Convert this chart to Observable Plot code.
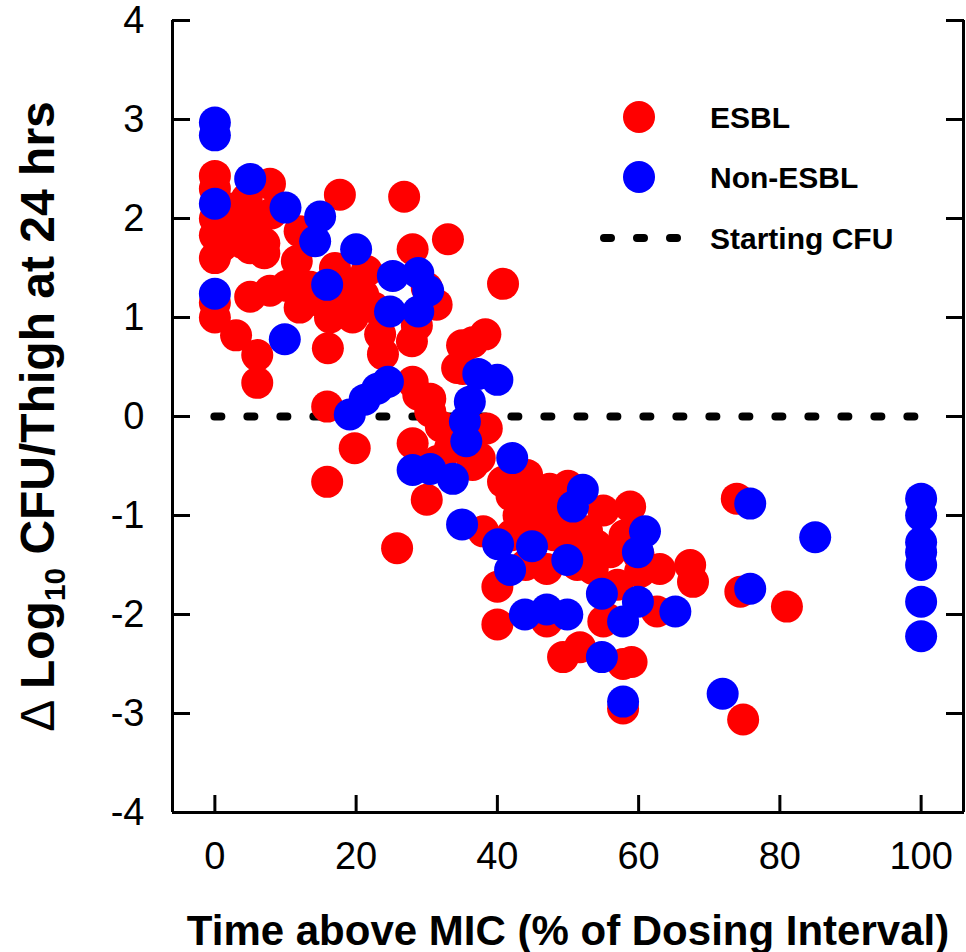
<!DOCTYPE html>
<html><head><meta charset="utf-8">
<script src="https://cdn.jsdelivr.net/npm/d3@7"></script>
<script src="https://cdn.jsdelivr.net/npm/@observablehq/plot@0.6"></script>
<style>
html,body{margin:0;padding:0;background:#fff;}
#chart{width:966px;height:952px;}
</style></head><body><div id="chart"></div>
<script>
// ESBL strains: time above MIC (%) and change in log10 CFU/thigh
const esblTime = [
  0,0,0,0,0,0,0,
  2,2.5,3.5,4.5,5,6,7,8,7.8,1,4,7,
  5,7.8,10.2,
  3,6,6,
  12,11.6,13.5,12,15,16.3,16,15.9,15.9,17.7,
  17,18.5,19.5,21,21.5,23.4,23.8,22.5,20,18,
  19.8,
  26.8,28,33,
  27.9,28.6,31.4,30,
  28,30.5,28.8,30.5,34.3,35.1,35,36.5,38.3,40.8,
  28,30,25.8,33.3,36.5,38.5,37.5,38,32,34.5,31.5,
  40,40,40.8,44.2,47.4,42,43,45,46,48,44,47,42,50,50,45,48.5,51,47,51.3,
  49.3,51.7,55,57.8,59,57.8,
  53.5,52.7,54,55,56,58.8,
  60.2,63,67.3,67.7,62.6,55.5,57,60,58,
  73.9,74.4,74.8,81
];
const esblChange = [
  2.43,2.30,2.00,1.83,1.60,1.15,1.00,
  2.10,1.80,1.95,2.20,1.70,1.95,1.75,2.05,2.35,1.72,1.75,1.65,
  1.21,1.27,1.32,
  0.82,0.62,0.34,
  1.87,1.57,1.31,1.10,1.16,1.00,0.69,0.10,-0.66,2.24,
  1.50,1.35,1.00,1.23,1.47,0.83,0.63,1.10,1.30,1.15,
  -0.32,
  2.22,1.69,1.79,
  0.76,0.92,1.13,1.30,
  0.35,0.18,0.22,0.05,0.49,0.48,0.72,0.75,0.83,1.34,
  -0.27,-0.84,-1.33,-0.32,-0.49,-0.12,-0.42,-1.16,-0.10,-0.20,-0.45,
  -1.72,-2.10,-0.66,-0.59,-0.73,-0.80,-1.00,-0.90,-1.10,-1.20,-1.50,-1.54,-1.20,-1.20,-0.70,-0.75,-0.95,-1.35,-2.07,-1.50,
  -2.43,-2.33,-2.07,-2.50,-2.48,-2.95,
  -1.54,-1.16,-1.30,-0.95,-1.37,-0.91,
  -1.57,-1.54,-1.50,-1.67,-1.97,-2.04,-1.70,-1.40,-1.20,
  -0.83,-1.77,-3.06,-1.92
];
// Non-ESBL strains
const nonEsblTime = [
  0,0,0,0,5,10,9.9,14.9,14.2,15.9,20,
  25.2,24.8,28.8,30.2,28.8,
  19.1,21.2,23,24.5,
  28,30.5,33.7,35,35.4,35.6,36.1,37.3,40,42.1,
  40.1,44.9,41.8,43.9,47,49.9,49.9,50.7,52.1,54.8,54.8,57.8,57.8,
  60.9,59.9,59.9,65.2,75.8,75.8,71.9,85,
  100,100,100,100,100,100,100
];
const nonEsblChange = [
  2.97,2.84,2.15,1.24,2.40,2.11,0.78,2.02,1.77,1.33,1.69,
  1.42,1.06,1.45,1.27,1.06,
  0.02,0.17,0.28,0.35,
  -0.54,-0.53,-0.63,-1.09,-0.05,-0.25,0.15,0.43,0.37,-0.42,
  -1.29,-1.31,-1.55,-2.00,-1.95,-2.00,-1.45,-0.91,-0.74,-1.79,-2.43,-2.07,-2.88,
  -1.16,-1.37,-1.87,-1.97,-0.88,-1.74,-2.80,-1.22,
  -0.83,-1.00,-1.27,-1.37,-1.50,-1.87,-2.22
];
const xTicks = [0, 20, 40, 60, 80, 100];
const yTicks = [-4, -3, -2, -1, 0, 1, 2, 3, 4];
const xDomain = [-6, 106];
const yDomain = [-4, 4];
const startingCFU = [{from: 0, to: 100, level: 0}];
const seriesNames = ["ESBL", "Non-ESBL", "Starting CFU"];
const seriesColors = ["#ff0000", "#0000ff"];
const xTitle = "Time above MIC (% of Dosing Interval)";
const yTitle = "Δ Log10 CFU/Thigh at 24 hrs";

const esbl = esblTime.map((t, i) => ({time: t, change: esblChange[i]}));
const nonEsbl = nonEsblTime.map((t, i) => ({time: t, change: nonEsblChange[i]}));

const chart = Plot.plot({
  width: 966, height: 952,
  marginLeft: 172, marginRight: 3, marginTop: 20, marginBottom: 140,
  style: {fontFamily: "'Liberation Sans', Arial, sans-serif", background: "#fff", color: "#000", overflow: "visible"},
  x: {domain: xDomain, label: null},
  y: {domain: yDomain, label: null},
  marks: [
    Plot.ruleY(startingCFU, {x1: "from", x2: "to", y: "level", stroke: "#000", strokeWidth: 8, strokeDasharray: "7 26", strokeLinecap: "round"}),
    Plot.dot(esbl, {x: "time", y: "change", r: 16, fill: seriesColors[0], stroke: null}),
    Plot.dot(nonEsbl, {x: "time", y: "change", r: 16, fill: seriesColors[1], stroke: null}),
    Plot.ruleX(xDomain, {stroke: "#000", strokeWidth: 3}),
    Plot.ruleY([yDomain[0]], {stroke: "#000", strokeWidth: 3}),
    Plot.axisY(yTicks, {anchor: "left", tickSize: 18, dx: 18, strokeWidth: 3, tickFormat: () => "", label: null}),
    Plot.axisY(yTicks, {anchor: "right", tickSize: 18, dx: -18, strokeWidth: 3, tickFormat: () => "", label: null}),
    Plot.axisY(yTicks, {anchor: "left", tickSize: 0, tickPadding: 28, fontSize: 38, tickFormat: d => String(d), label: null}),
    Plot.axisX(xTicks, {anchor: "bottom", tickSize: 17, dy: -17, strokeWidth: 3, tickFormat: () => "", label: null}),
    Plot.axisX(xTicks, {anchor: "bottom", tickSize: 0, tickPadding: 30, fontSize: 38, tickFormat: d => String(d), label: null}),
    Plot.text([xTitle], {frameAnchor: "bottom", dy: 119, fontSize: 42, fontWeight: "bold", textAnchor: "middle", lineAnchor: "middle"}),
    Plot.text([yTitle], {frameAnchor: "left", dx: -134, rotate: -90, fontSize: 48, fontWeight: "bold", textAnchor: "middle", lineAnchor: "middle"})
  ]
});
document.getElementById("chart").appendChild(chart);

// subscript in y title
const svg = d3.select(chart);
svg.selectAll("text").filter(function() { return this.textContent === yTitle; }).each(function() {
  const t = d3.select(this);
  t.text(null);
  t.append("tspan").attr("font-weight", "normal").text("Δ ");
  t.append("tspan").text("Log");
  t.append("tspan").attr("font-size", "0.62em").attr("dy", 11).text("10");
  t.append("tspan").attr("dy", -11).text(" CFU/Thigh at 24 hrs");
});

// legend
const lg = svg.append("g")
  .attr("font-family", "'Liberation Sans', Arial, sans-serif")
  .attr("font-weight", "bold").attr("font-size", 30).attr("text-anchor", "start");
seriesColors.forEach((c, i) => {
  lg.append("circle").attr("cx", 639).attr("cy", 117 + i * 60).attr("r", 16).attr("fill", c);
});
lg.append("line").attr("x1", 604).attr("x2", 678).attr("y1", 238).attr("y2", 238)
  .attr("stroke", "#000").attr("stroke-width", 8).attr("stroke-dasharray", "7 26").attr("stroke-linecap", "round");
seriesNames.forEach((n, i) => {
  lg.append("text").attr("x", 710).attr("y", 117 + i * 60.5).attr("dy", "0.35em").attr("text-anchor", "start").text(n);
});
</script>
</body></html>
